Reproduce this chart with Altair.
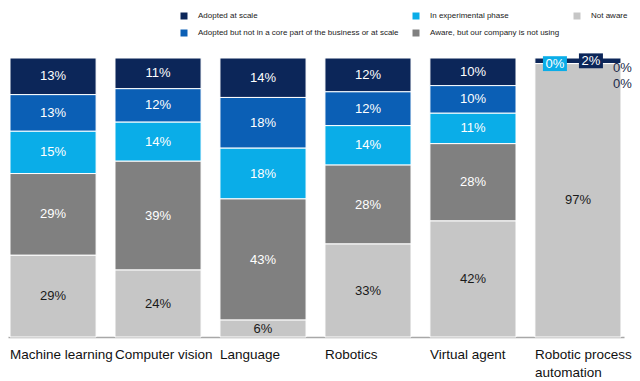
import altair as alt
import pandas as pd

categories = ["Machine learning", "Computer vision", "Language", "Robotics",
              "Virtual agent", "Robotic process automation"]
series = ["Adopted at scale",
          "Adopted but not in a core part of the business or at scale",
          "In experimental phase",
          "Aware, but our company is not using",
          "Not aware"]
adopted_at_scale = [13, 11, 14, 12, 10, 2]
adopted_not_core = [13, 12, 18, 12, 10, 0]
experimental = [15, 14, 18, 14, 11, 0]
aware_not_using = [29, 39, 43, 28, 28, 0]
not_aware = [29, 24, 6, 33, 42, 97]

values = [adopted_at_scale, adopted_not_core, experimental, aware_not_using, not_aware]
stack_rank = [4, 3, 2, 1, 0]

rows = []
for i, c in enumerate(categories):
    for s, vals, o in zip(series, values, stack_rank):
        rows.append({"category": c, "series": s, "value": vals[i], "order": o})
df = pd.DataFrame(rows)

colors = {
    series[0]: "#0c2659",
    series[1]: "#0b5fb5",
    series[2]: "#0aade8",
    series[3]: "#808080",
    series[4]: "#c6c6c6",
}
legend_order = series
color_scale = alt.Scale(domain=legend_order, range=[colors[s] for s in legend_order])

FONT = "Liberation Sans"

x_enc = alt.X(
    "category:N", sort=categories,
    scale=alt.Scale(paddingInner=0.18, paddingOuter=0.024, align=0.4),
    axis=alt.Axis(title=None, labelAngle=0, labelAlign="left", labelOffset=-43,
                  labelFontSize=13.5, labelFont=FONT, labelColor="#111111",
                  ticks=False, domainColor="#a8a8a8", domainWidth=1.5,
                  labelPadding=10, labelBaseline="top", labelLineHeight=18,
                  labelLimit=200,
                  labelExpr="datum.value == 'Robotic process automation' ? ['Robotic process', 'automation'] : datum.value"),
)
y_scale = alt.Scale(domain=[0, 1])

base = alt.Chart(df).transform_stack(
    stack="value", groupby=["category"],
    sort=[alt.SortField("order", order="ascending")],
    offset="normalize", as_=["y0", "y1"],
).transform_calculate(
    mid="(datum.y0 + datum.y1) / 2",
    label="datum.value + '%'",
)

bars = base.mark_bar(stroke="white", strokeWidth=1).encode(
    x=x_enc,
    y=alt.Y("y0:Q", scale=y_scale, axis=None),
    y2="y1:Q",
    color=alt.Color("series:N", scale=color_scale, legend=alt.Legend(
        title=None, orient="none", legendX=172, legendY=-46, columns=3,
        symbolType="square", symbolSize=49, symbolStrokeWidth=0,
        labelFontSize=8, labelFont=FONT, labelColor="#222222",
        labelOffset=10, columnPadding=13, rowPadding=9, labelLimit=400,
        symbolOpacity=1)),
)

labels = base.transform_filter("datum.value >= 3").mark_text(
    fontSize=13, font=FONT).encode(
    x=x_enc,
    y=alt.Y("mid:Q", scale=y_scale, axis=None),
    text="label:N",
    color=alt.condition("datum.series == 'Not aware'", alt.value("#1a1a1a"), alt.value("white")),
)

rpa = base.transform_filter("datum.category == 'Robotic process automation'")
box_path = "M-1,-0.62L1,-0.62L1,0.62L-1,0.62Z"

exp_f = "datum.series == 'In experimental phase'"
scale_f = "datum.series == 'Adopted at scale'"
core_f = "datum.series == 'Adopted but not in a core part of the business or at scale'"
aware_f = "datum.series == 'Aware, but our company is not using'"

yenc = alt.Y("mid:Q", scale=y_scale, axis=None)

box_exp = rpa.transform_filter(exp_f).mark_point(
    shape=box_path, size=576, filled=True, opacity=1, color=colors[series[2]],
    strokeWidth=0, xOffset=-23).encode(x=x_enc, y=yenc)
txt_exp = rpa.transform_filter(exp_f).mark_text(
    fontSize=13, font=FONT, color="white", dx=-23).encode(x=x_enc, y=yenc, text="label:N")
box_sc = rpa.transform_filter(scale_f).mark_point(
    shape=box_path, size=576, filled=True, opacity=1, color=colors[series[0]],
    strokeWidth=0, xOffset=13).encode(x=x_enc, y=yenc)
txt_sc = rpa.transform_filter(scale_f).mark_text(
    fontSize=13, font=FONT, color="white", dx=13).encode(x=x_enc, y=yenc, text="label:N")
txt_core = rpa.transform_filter(core_f).mark_text(
    fontSize=13, font=FONT, color="#1c2a4a", align="left", dx=35, dy=4).encode(
    x=x_enc, y=yenc, text="label:N")
txt_aware = rpa.transform_filter(aware_f).mark_text(
    fontSize=13, font=FONT, color="#1c2a4a", align="left", dx=35, dy=20).encode(
    x=x_enc, y=yenc, text="label:N")

chart = alt.layer(
    bars, labels, box_exp, txt_exp, box_sc, txt_sc, txt_core, txt_aware
).properties(
    width=616, height=279,
    autosize=alt.AutoSizeParams(type="none"),
    padding={"left": 0, "top": 50, "right": 8, "bottom": 44},
    background="white",
).configure_view(strokeWidth=0)

chart.save("out.html", embed_options={"renderer": "svg", "actions": False})
